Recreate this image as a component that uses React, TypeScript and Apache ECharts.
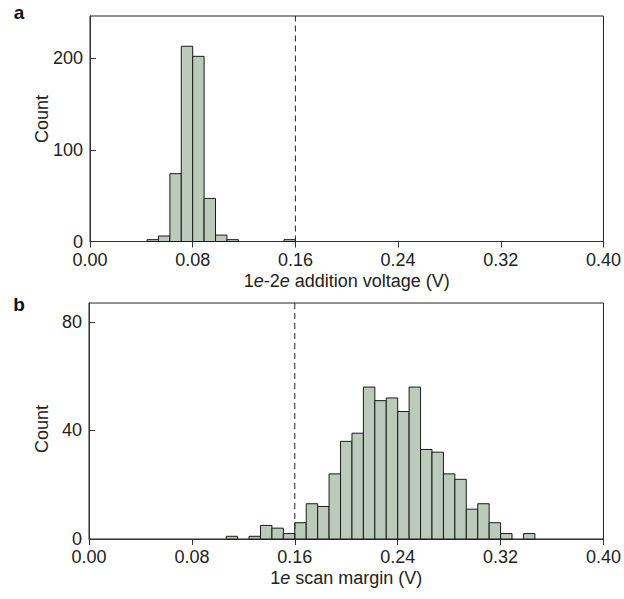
import React, { useEffect, useRef } from "react";
import * as echarts from "echarts";

// Histogram bins: 45 equal bins over [0, 0.4] V
const binCount = 45;
const rangeMin = 0;
const rangeMax = 0.4;

// Panel a: 1e-2e addition voltage counts per bin
const countsA = [
  0, 0, 0, 0, 0, 2, 6, 74, 213, 202,
  47, 7, 2, 0, 0, 0, 0, 2, 0, 0,
  0, 0, 0, 0, 0, 0, 0, 0, 0, 0,
  0, 0, 0, 0, 0, 0, 0, 0, 0, 0,
  0, 0, 0, 0, 0,
];

// Panel b: 1e scan margin counts per bin
const countsB = [
  0, 0, 0, 0, 0, 0, 0, 0, 0, 0,
  0, 0, 1, 0, 1, 5, 4, 2, 6, 13,
  12, 24, 36, 39, 56, 51, 52, 47, 56, 33,
  32, 24, 22, 11, 13, 6, 2, 0, 2, 0,
  0, 0, 0, 0, 0,
];

const xTicks = [0, 0.08, 0.16, 0.24, 0.32, 0.4];
const yTicksA = [0, 100, 200];
const yTicksB = [0, 40, 80];
const yMaxA = 246;
const yMaxB = 87;
const thresholdV = 0.16;

const FONT = "'Liberation Sans', Arial, sans-serif";
const TXT = "#222";
const FILL = "#bccabc";
const EDGE = "#1a1a1a";

function binData(counts: number[]) {
  const w = (rangeMax - rangeMin) / binCount;
  return counts
    .map((c, i) => [rangeMin + i * w, rangeMin + (i + 1) * w, c])
    .filter((d) => d[2] > 0);
}

const renderBar = (params: any, api: any) => {
  const p0 = api.coord([api.value(0), api.value(2)]);
  const p1 = api.coord([api.value(1), 0]);
  return {
    type: "rect",
    shape: { x: p0[0], y: p0[1], width: p1[0] - p0[0], height: p1[1] - p0[1] },
    style: { fill: FILL, stroke: EDGE, lineWidth: 1 },
  };
};

function xAxis(gridIndex: number, name: string) {
  return {
    type: "value",
    gridIndex,
    min: 0,
    max: 0.4,
    interval: 0.08,
    name,
    nameLocation: "middle",
    nameGap: 30,
    nameTextStyle: {
      fontSize: 18,
      color: TXT,
      fontFamily: FONT,
      rich: { i: { fontStyle: "italic", fontSize: 18, color: TXT, fontFamily: FONT } },
    },
    axisLine: { show: true, lineStyle: { color: "#333", width: 1 } },
    axisTick: { show: true, inside: false, length: 6, lineStyle: { color: "#333" }, customValues: xTicks },
    axisLabel: {
      fontSize: 18,
      lineHeight: 18,
      color: TXT,
      fontFamily: FONT,
      margin: 9,
      customValues: xTicks,
      formatter: (v: number) => v.toFixed(2),
    },
    splitLine: { show: false },
  };
}

function yAxis(gridIndex: number, max: number, ticks: number[]) {
  return {
    type: "value",
    gridIndex,
    min: 0,
    max,
    axisLine: { show: true, lineStyle: { color: "#333", width: 1 } },
    axisTick: { show: true, inside: true, length: 6, lineStyle: { color: "#333" }, customValues: ticks },
    axisLabel: { fontSize: 18, lineHeight: 15, color: TXT, fontFamily: FONT, margin: 7, customValues: ticks },
    splitLine: { show: false },
  };
}

export default function App() {
  const ref = useRef<HTMLDivElement>(null);
  useEffect(() => {
    if (!ref.current) return;
    const chart = echarts.init(ref.current, null, { renderer: "svg" });
    const option: any = {
      animation: false,
      backgroundColor: "#fff",
      grid: [
        { left: 90, top: 16, width: 515, height: 225.5, show: true, borderColor: "#222", borderWidth: 1 },
        { left: 89, top: 303, width: 516, height: 236, show: true, borderColor: "#222", borderWidth: 1 },
      ],
      xAxis: [
        xAxis(0, "1{i|e}-2{i|e} addition voltage (V)"),
        xAxis(1, "1{i|e} scan margin (V)"),
      ],
      yAxis: [yAxis(0, yMaxA, yTicksA), yAxis(1, yMaxB, yTicksB)],
      series: [
        {
          type: "custom",
          name: "a",
          xAxisIndex: 0,
          yAxisIndex: 0,
          renderItem: renderBar,
          encode: { x: [0, 1], y: 2 },
          data: binData(countsA),
        },
        {
          type: "custom",
          name: "b",
          xAxisIndex: 1,
          yAxisIndex: 1,
          renderItem: renderBar,
          encode: { x: [0, 1], y: 2 },
          data: binData(countsB),
        },
        {
          type: "line",
          xAxisIndex: 0,
          yAxisIndex: 0,
          symbol: "none",
          lineStyle: { color: "#222", width: 1, type: [6, 4] },
          data: [[thresholdV, 0], [thresholdV, yMaxA]],
        },
        {
          type: "line",
          xAxisIndex: 1,
          yAxisIndex: 1,
          symbol: "none",
          lineStyle: { color: "#222", width: 1, type: [6, 4] },
          data: [[thresholdV, 0], [thresholdV, yMaxB]],
        },
      ],
      graphic: [
        { type: "text", x: 19, y: 12, style: { text: "a", font: `bold 19px ${FONT}`, fill: "#111", align: "center", verticalAlign: "middle" } },
        { type: "text", x: 19, y: 304, style: { text: "b", font: `bold 19px ${FONT}`, fill: "#111", align: "center", verticalAlign: "middle" } },
        { type: "text", x: 42, y: 119, rotation: Math.PI / 2, style: { text: "Count", font: `18px ${FONT}`, fill: TXT, align: "center", verticalAlign: "middle" } },
        { type: "text", x: 42, y: 429, rotation: Math.PI / 2, style: { text: "Count", font: `18px ${FONT}`, fill: TXT, align: "center", verticalAlign: "middle" } },
      ],
    };
    chart.setOption(option);
    return () => chart.dispose();
  }, []);
  return <div ref={ref} style={{ position: "fixed", left: 0, top: 0, width: 624, height: 599 }} />;
}
